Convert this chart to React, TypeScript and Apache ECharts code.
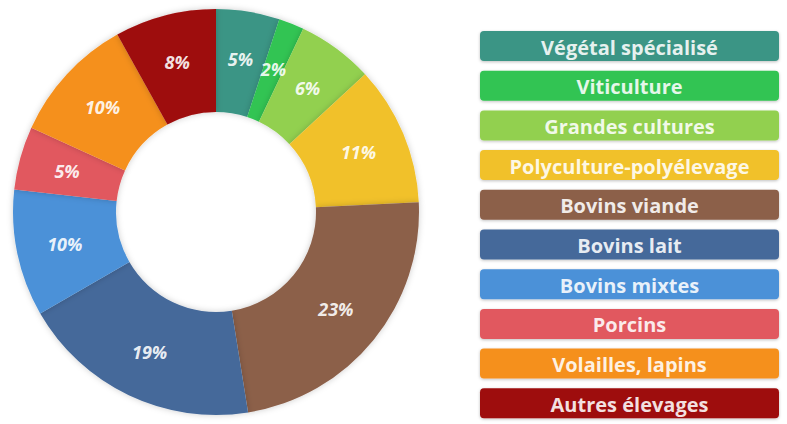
import React, { useEffect, useRef } from "react";
import * as echarts from "echarts";

const categories = [
  "Végétal spécialisé",
  "Viticulture",
  "Grandes cultures",
  "Polyculture-polyélevage",
  "Bovins viande",
  "Bovins lait",
  "Bovins mixtes",
  "Porcins",
  "Volailles, lapins",
  "Autres élevages",
];
const shares = [5, 2, 6, 11, 23, 19, 10, 5, 10, 8];
const colors = [
  "#3b9585",
  "#30c452",
  "#92d050",
  "#f1c12c",
  "#8c604a",
  "#45699a",
  "#4b91d8",
  "#e1595e",
  "#f5901f",
  "#9e0b0b",
];

export default function App() {
  const ref = useRef<HTMLDivElement>(null);
  useEffect(() => {
    if (!ref.current) return;
    const chart = echarts.init(ref.current, null, { renderer: "svg" });
    const legendX = 480;
    const legendW = 299;
    const legendTop = 31;
    const legendH = 30;
    const pitch = 39.7;
    const graphics: any[] = [];
    categories.forEach((c, i) => {
      const y = legendTop + i * pitch;
      graphics.push({
        type: "rect",
        left: legendX,
        top: y,
        shape: { width: legendW, height: legendH, r: 4 },
        style: {
          fill: colors[i],
          shadowBlur: 3,
          shadowColor: "rgba(0,0,0,0.25)",
          shadowOffsetY: 1,
        },
      });
      graphics.push({
        type: "text",
        x: legendX + legendW / 2,
        y: y + legendH / 2 + 1,
        style: {
          text: c,
          fill: "rgba(255,255,255,0.88)",
          font: "bold 20px 'Open Sans', sans-serif",
          align: "center",
          verticalAlign: "middle",
        },
      });
    });
    chart.setOption({
      animation: false,
      backgroundColor: "#ffffff",
      graphic: graphics,
      series: [
        {
          type: "pie",
          center: [216, 212],
          radius: [100, 203],
          startAngle: 90,
          clockwise: true,
          avoidLabelOverlap: false,
          data: categories.map((c, i) => ({
            name: c,
            value: shares[i],
            itemStyle: { color: colors[i] },
          })),
          itemStyle: {
            shadowBlur: 6,
            shadowColor: "rgba(0,0,0,0.2)",
          },
          label: {
            show: true,
            position: "inside",
            formatter: "{c}%",
            color: "rgba(255,255,255,0.9)",
            fontFamily: "'Open Sans', sans-serif",
            fontWeight: "bold",
            fontStyle: "italic",
            fontSize: 18,
          },
          labelLine: { show: false },
          emphasis: { disabled: true },
        },
      ],
    });
    return () => chart.dispose();
  }, []);
  return (
    <div
      ref={ref}
      style={{ position: "fixed", left: 0, top: 0, width: 787, height: 424 }}
    />
  );
}
